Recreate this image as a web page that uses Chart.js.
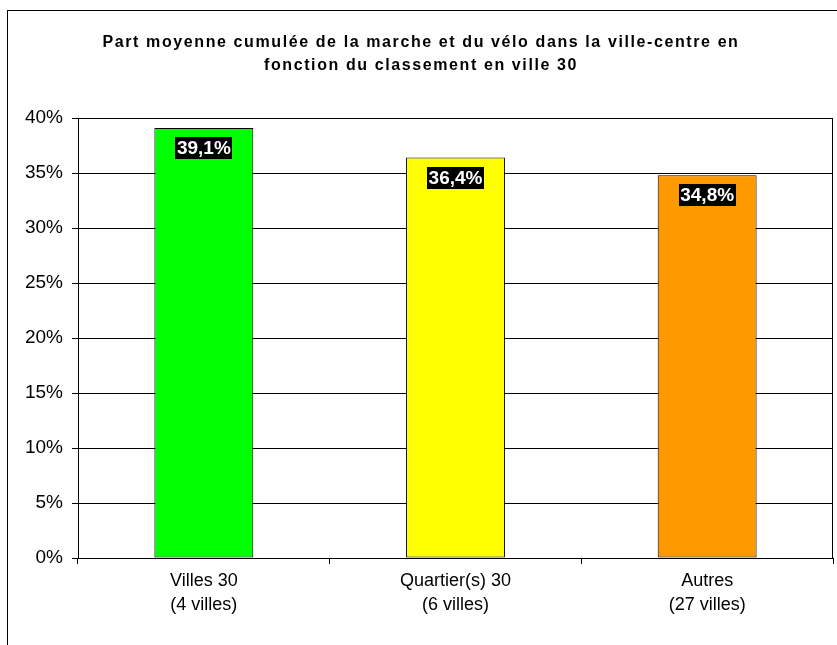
<!DOCTYPE html>
<html><head><meta charset="utf-8">
<script src="https://cdn.jsdelivr.net/npm/chart.js@4/dist/chart.umd.min.js"></script>
<style>html,body{margin:0;padding:0;background:#fff}#wrap{width:837px;height:645px}</style>
</head><body><div id="wrap"><canvas id="c" width="837" height="645"></canvas></div>
<script>
const titleLines = ["Part moyenne cumulée de la marche et du vélo dans la ville-centre en", "fonction du classement en ville 30"];
const categories = [["Villes 30", "(4 villes)"], ["Quartier(s) 30", "(6 villes)"], ["Autres", "(27 villes)"]];
const values = [39.1, 36.4, 34.8];
const valueLabels = ["39,1%", "36,4%", "34,8%"];
const barColors = ["#00FF00", "#FFFF00", "#FF9900"];
const yTicks = [0, 5, 10, 15, 20, 25, 30, 35, 40];

const FONT = "'Liberation Sans', Arial, sans-serif";

const framePlugin = {
  id: 'frame',
  beforeDraw(chart) {
    const ctx = chart.ctx;
    ctx.save();
    ctx.fillStyle = '#fff';
    ctx.fillRect(0, 0, chart.width, chart.height);
    ctx.strokeStyle = '#000';
    ctx.lineWidth = 1;
    ctx.strokeRect(7.5, 10.5, chart.width + 10, chart.height + 10);
    ctx.fillStyle = '#000';
    ctx.font = "bold 16px " + FONT;
    ctx.textAlign = 'center';
    ctx.textBaseline = 'middle';
    try { ctx.letterSpacing = '1.6px'; } catch (e) {}
    ctx.fillText(titleLines[0], 421, 43);
    ctx.fillText(titleLines[1], 421, 66);
    ctx.restore();
  },
  afterDraw(chart) {
    const a = chart.chartArea, ctx = chart.ctx;
    ctx.save();
    ctx.strokeStyle = '#000';
    ctx.lineWidth = 1;
    ctx.beginPath();
    ctx.moveTo(Math.round(a.left) + 0.5, Math.round(a.top) + 0.5);
    ctx.lineTo(Math.round(a.right) - 0.5, Math.round(a.top) + 0.5);
    ctx.lineTo(Math.round(a.right) - 0.5, Math.round(a.bottom) + 0.5);
    ctx.stroke();
    ctx.restore();
  }
};

const labelPlugin = {
  id: 'vlabels',
  afterDatasetsDraw(chart) {
    const ctx = chart.ctx;
    const meta = chart.getDatasetMeta(0);
    ctx.save();
    ctx.font = "bold 19px " + FONT;
    ctx.textAlign = 'center';
    ctx.textBaseline = 'middle';
    meta.data.forEach((bar, i) => {
      const t = valueLabels[i];
      const w = ctx.measureText(t).width + 3;
      const h = 22;
      const cy = bar.y + 20;
      ctx.fillStyle = '#000';
      ctx.fillRect(Math.round(bar.x - w / 2), Math.round(cy - h / 2), Math.round(w), h);
      ctx.fillStyle = '#fff';
      ctx.fillText(t, bar.x, cy + 1);
    });
    ctx.restore();
  }
};

new Chart(document.getElementById('c'), {
  type: 'bar',
  data: {
    labels: categories,
    datasets: [{
      data: values,
      backgroundColor: barColors,
      borderColor: '#000',
      borderWidth: 1,
      borderSkipped: false,
      categoryPercentage: 1,
      barPercentage: 0.393
    }]
  },
  options: {
    responsive: false,
    animation: false,
    devicePixelRatio: 1,
    layout: { padding: { left: 0, right: 4, top: 118, bottom: 0 } },
    plugins: {
      legend: { display: false },
      tooltip: { enabled: false },
      title: { display: false }
    },
    scales: {
      x: {
        grid: { display: true, drawOnChartArea: false, color: '#000', tickLength: 6, offset: true },
        border: { color: '#000' },
        ticks: { color: '#000', font: { family: FONT, size: 18, lineHeight: 1.28 }, padding: 6, maxRotation: 0 },
        afterFit(s) { s.height = 87; }
      },
      y: {
        min: 0, max: 40,
        afterBuildTicks(s) { s.ticks = yTicks.map(v => ({ value: v })); },
        grid: { color: '#000', tickLength: 6 },
        border: { color: '#000' },
        ticks: { color: '#000', font: { family: FONT, size: 19 }, padding: 9, callback: v => v + '%' },
        afterFit(s) { s.width = 78; }
      }
    }
  },
  plugins: [framePlugin, labelPlugin]
});
</script></body></html>
